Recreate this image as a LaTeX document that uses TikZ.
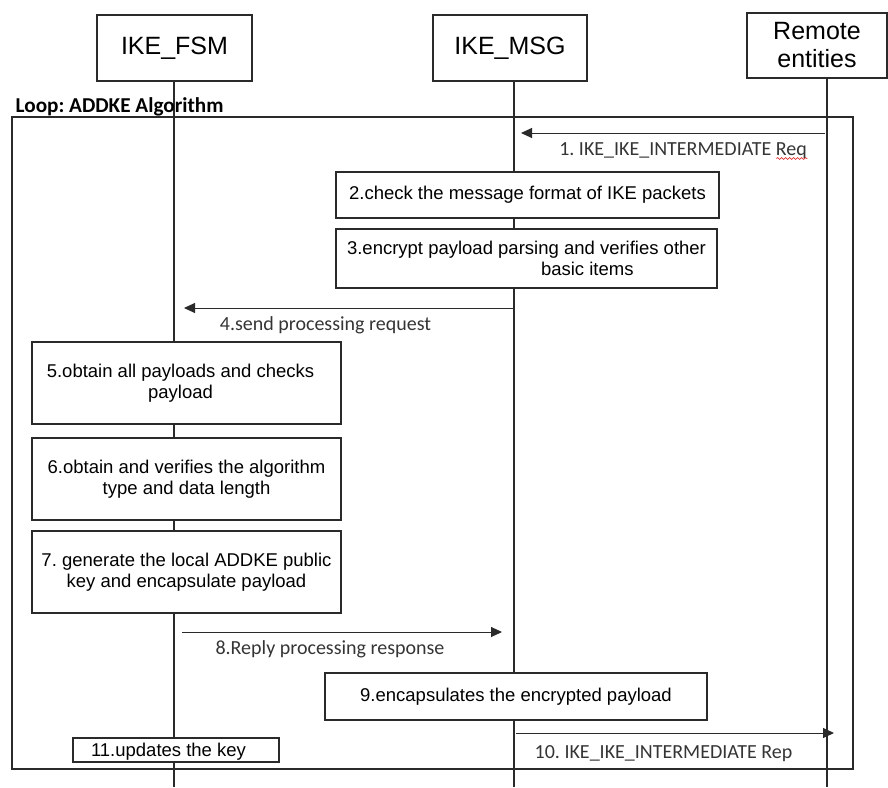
\documentclass[tikz,border=0pt]{standalone}
\usepackage{fontspec}
\setmainfont{Liberation Sans}
\newfontfamily\labelfont{Carlito}
\usepackage{tikz}
\usetikzlibrary{arrows.meta, positioning, decorations.pathmorphing}
\frenchspacing
\definecolor{seqline}{HTML}{2A2A2A}
\definecolor{seqtext}{HTML}{353535}
\definecolor{spellred}{HTML}{E03030}
\tikzset{
  headbox/.style={
    draw=seqline, line width=0.65pt, fill=white,
    align=center, inner sep=0pt,
    font=\fontsize{12.5}{14}\selectfont,
  },
  stepbox/.style={
    draw=seqline, line width=0.6pt, fill=white,
    align=center, inner sep=0pt,
    font=\fontsize{9.25}{10.6}\selectfont,
  },
  lifeline/.style={seqline, line width=0.55pt},
  loopframe/.style={draw=seqline, line width=0.7pt, inner sep=0pt},
  looptitle/.style={
    font=\labelfont\bfseries\fontsize{10.6}{12}\selectfont,
    inner sep=0pt, anchor=base west,
  },
  sig/.style={-{Triangle[length=5.5pt, width=5pt]}, seqline, line width=0.5pt},
  siglabel/.style={
    font=\labelfont\fontsize{10}{12}\selectfont, text=seqtext,
    inner sep=0pt, text height=7pt, text depth=2pt, below=4pt,
  },
  spellmark/.style={
    spellred, line width=0.35pt, decorate,
    decoration={snake, amplitude=0.45pt, segment length=2pt},
  },
}

\begin{document}
\begin{tikzpicture}[x=0.5pt, y=-0.5pt]
  \useasboundingbox (0,0) rectangle (888,787);

  % Lifeline heads
  \node[headbox, minimum width=77.5pt, minimum height=33pt] (fsm) at (174.5,48)
    {IKE\_FSM};
  \node[headbox, minimum width=77pt, minimum height=33pt] (msg) at (510,48)
    {IKE\_MSG};
  \node[headbox, minimum width=70pt, minimum height=32.5pt] (rem) at (817,45.5)
    {Remote\\entities};

  % Lifelines
  \coordinate (fsmbot) at (174,787);
  \coordinate (msgbot) at (514,787);
  \coordinate (rembot) at (827,787);
  \draw[lifeline] (fsm.south -| fsmbot) -- (fsmbot);
  \draw[lifeline] (msg.south -| msgbot) -- (msgbot);
  \draw[lifeline] (rem.south -| rembot) -- (rembot);

  % Loop frame
  \node[loopframe, minimum width=420.5pt, minimum height=326pt] (loop) at (432.5,443) {};
  \node[looptitle] (looplbl) at ([shift={(4,-4)}]loop.north west)
    {Loop: ADDKE Algorithm};

  % IKE_MSG steps
  \node[stepbox, minimum width=191.5pt, minimum height=23pt] (chk) at (527.5,195)
    {2.check the message format of IKE packets};
  \node[stepbox, minimum width=190.5pt, minimum height=29.5pt, align=left] (enc) at (526.5,258.5)
    {3.encrypt payload parsing and verifies other\\\hspace*{97pt}basic items};

  % IKE_FSM steps
  \node[stepbox, minimum width=154.5pt, minimum height=41pt] (obt) at (186.5,383)
    {5.obtain all payloads and checks\hspace*{6pt}\\payload\hspace*{6pt}};
  \node[stepbox, minimum width=154.5pt, minimum height=41pt] (ver) at (186.5,479)
    {6.obtain and verifies the algorithm\\type and data length};
  \node[stepbox, minimum width=154.5pt, minimum height=41pt] (gen) at (186.5,572)
    {7. generate the local ADDKE public\\key and encapsulate payload};

  \node[stepbox, minimum width=191pt, minimum height=23.5pt] (encap) at (516,696.5)
    {9.encapsulates the encrypted payload};
  \node[stepbox, minimum width=103pt, minimum height=12pt, text depth=0pt] (upd) at (176,750)
    {11.updates the key\hspace*{7.5pt}};

  % Messages
  \coordinate (reqsrc) at (825,133);
  \coordinate (reqdst) at (521,133);
  \draw[sig] (reqsrc) -- (reqdst)
    node[siglabel, pos=0.467] (reqlbl) {1. IKE\_IKE\_INTERMEDIATE Req};
  \draw[spellmark] ([shift={(-31,3)}]reqlbl.base east) -- ([shift={(0,3)}]reqlbl.base east);

  \coordinate (sendsrc) at (513,308);
  \coordinate (senddst) at (184,308);
  \draw[sig] (sendsrc) -- (senddst)
    node[siglabel, pos=0.57] (sendlbl) {4.send processing request};

  \coordinate (replysrc) at (182,632);
  \coordinate (replydst) at (502,632);
  \draw[sig] (replysrc) -- (replydst)
    node[siglabel, pos=0.4625] (replylbl) {8.Reply processing response};

  \coordinate (repsrc) at (516,733);
  \coordinate (repdst) at (834,733);
  \draw[sig] (repsrc) -- (repdst)
    node[siglabel, pos=0.464, below=5.5pt] (replbl) {10. IKE\_IKE\_INTERMEDIATE Rep};

\end{tikzpicture}
\end{document}
